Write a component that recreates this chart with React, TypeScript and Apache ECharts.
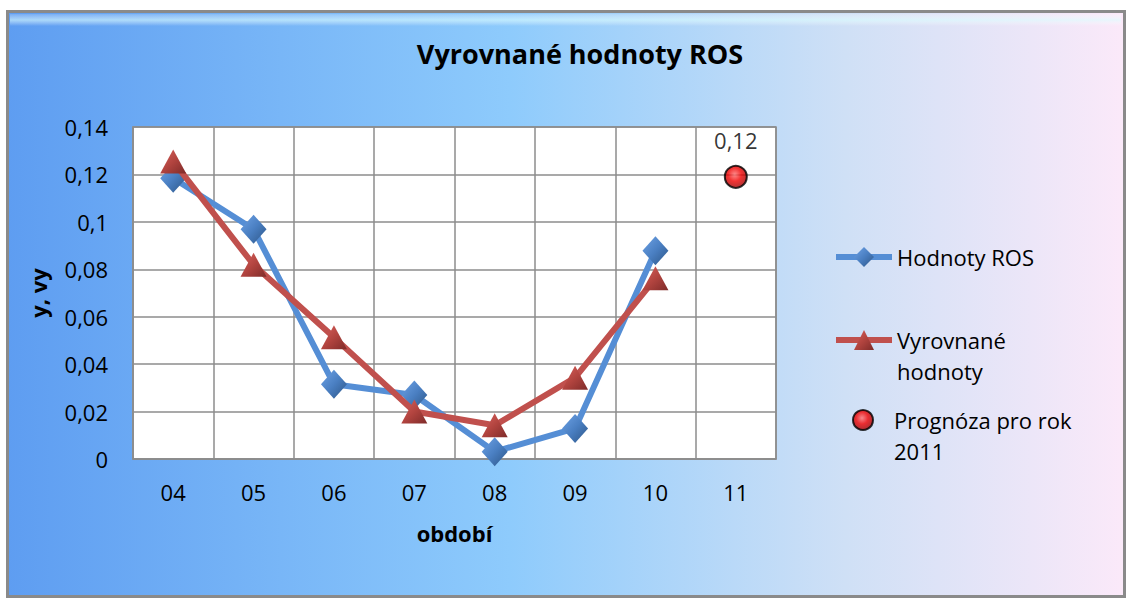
import React, { useEffect, useRef } from "react";
import * as echarts from "echarts";

const categories = ["04", "05", "06", "07", "08", "09", "10", "11"];
const rosValues = [0.1184, 0.0969, 0.0315, 0.027, 0.0031, 0.0129, 0.0878, null];
const smoothedValues = [0.1255, 0.0819, 0.0513, 0.02, 0.0142, 0.0343, 0.0762, null];
const forecastValues = [null, null, null, null, null, null, null, 0.119];
const seriesNames = ["Hodnoty ROS", "Vyrovnané hodnoty", "Prognóza pro rok 2011"];

const FONT = "Open Sans";
const fmtTick = (v: number) => String(+Number(v).toFixed(3)).replace(".", ",");
const fmtLabel = (v: number) => Number(v).toFixed(2).replace(".", ",");

export default function App() {
  const ref = useRef<HTMLDivElement>(null);
  useEffect(() => {
    if (!ref.current) return;
    const chart = echarts.init(ref.current, null, { renderer: "svg" });
    const blue = "#558ed5";
    const red = "#c0504d";
    const diamondFill = new echarts.graphic.LinearGradient(0, 0, 1, 1, [
      { offset: 0, color: "#6fa3e6" },
      { offset: 0.5, color: "#4a7fc2" },
      { offset: 1, color: "#2c5586" },
    ]);
    const triFill = new echarts.graphic.LinearGradient(0, 0, 1, 1, [
      { offset: 0, color: "#d8625e" },
      { offset: 0.5, color: "#b2443f" },
      { offset: 1, color: "#7e2b29" },
    ]);
    const ballFill = new echarts.graphic.RadialGradient(0.45, 0.4, 0.6, [
      { offset: 0, color: "#ff7070" },
      { offset: 0.5, color: "#f00000" },
      { offset: 1, color: "#a00000" },
    ]);
    const legendText: any = {
      fontFamily: FONT,
      fontSize: 22,
      color: "#000",
      lineHeight: 31,
      rich: {
        t: { fontFamily: FONT, fontSize: 22, color: "#000", lineHeight: 31, padding: [0, 0, 0, 16] },
      },
    };
    const legendFormat = [
      () => "Hodnoty ROS",
      () => "\nVyrovnané\nhodnoty",
      () => "{t|}\n{t|Prognóza pro rok}\n{t|2011}",
    ];
    const option: any = {
      animation: false,
      graphic: [
        {
          type: "rect",
          z: -10,
          silent: true,
          shape: { x: 7.5, y: 11.5, width: 1117, height: 585 },
          style: {
            fill: new echarts.graphic.LinearGradient(0, 0, 1, 0, [
              { offset: 0, color: "#5e9df1" },
              { offset: 0.45, color: "#8ecbfc" },
              { offset: 0.75, color: "#cfe0f6" },
              { offset: 1, color: "#fbe9f9" },
            ]),
            stroke: "#8a8a8a",
            lineWidth: 3,
          },
        },
        {
          type: "rect",
          z: -9,
          silent: true,
          shape: { x: 10, y: 14, width: 1111, height: 12 },
          style: {
            fill: new echarts.graphic.LinearGradient(0, 0, 0, 1, [
              { offset: 0, color: "rgba(255,255,255,0.15)" },
              { offset: 0.5, color: "rgba(220,255,255,0.6)" },
              { offset: 1, color: "rgba(255,255,255,0)" },
            ]),
          },
        },
      ],
      title: {
        text: "Vyrovnané hodnoty ROS",
        left: 575,
        textAlign: "center",
        top: 35,
        textStyle: { fontFamily: FONT, fontSize: 27, fontWeight: "bold", color: "#000" },
      },
      legend: [0, 1, 2].map((i) => ({
        data: [seriesNames[i]],
        left: i === 2 ? 852 : 833,
        top: [241.5, 293.5, 373.5][i],
        padding: 0,
        itemWidth: i === 2 ? 20 : 56,
        itemHeight: i === 2 ? 20 : 25,
        selectedMode: false,
        formatter: legendFormat[i],
        lineStyle: { width: 6 },
        textStyle: legendText,
      })),
      grid: {
        left: 133,
        right: 353,
        top: 127,
        bottom: 142,
        show: true,
        backgroundColor: "#ffffff",
        borderColor: "#8c8c8c",
        borderWidth: 1.5,
      },
      xAxis: {
        type: "category",
        data: categories,
        boundaryGap: true,
        name: "období",
        nameLocation: "middle",
        nameGap: 63,
        nameTextStyle: { fontFamily: FONT, fontSize: 22, fontWeight: "bold", color: "#000" },
        axisLine: { show: true, lineStyle: { color: "#8c8c8c", width: 1.5 } },
        axisTick: { show: false },
        axisLabel: { fontFamily: FONT, fontSize: 22, color: "#000", margin: 22, interval: 0 },
        splitLine: { show: true, interval: 0, lineStyle: { color: "#8c8c8c", width: 1.5 } },
      },
      yAxis: {
        type: "value",
        min: 0,
        max: 0.14,
        interval: 0.02,
        name: "y, vy",
        nameLocation: "middle",
        nameGap: 84,
        nameTextStyle: { fontFamily: FONT, fontSize: 22, fontWeight: "bold", color: "#000" },
        axisLine: { show: true, lineStyle: { color: "#8c8c8c", width: 1.5 } },
        axisTick: { show: false },
        axisLabel: { fontFamily: FONT, fontSize: 22, color: "#000", margin: 25, formatter: fmtTick },
        splitLine: { show: true, lineStyle: { color: "#8c8c8c", width: 1.5 } },
      },
      series: [
        {
          name: seriesNames[0],
          type: "line",
          data: rosValues,
          symbol: "diamond",
          symbolSize: [26, 29],
          lineStyle: { color: blue, width: 6 },
          itemStyle: { color: diamondFill, borderWidth: 0 },
          z: 2,
        },
        {
          name: seriesNames[1],
          type: "line",
          data: smoothedValues,
          symbol: "triangle",
          symbolSize: [26, 24],
          lineStyle: { color: red, width: 6 },
          itemStyle: { color: triFill, borderWidth: 0 },
          z: 3,
        },
        {
          name: seriesNames[2],
          type: "scatter",
          data: forecastValues,
          symbol: "circle",
          symbolSize: 22,
          itemStyle: { color: ballFill, borderColor: "#000", borderWidth: 2 },
          label: {
            show: true,
            position: "top",
            distance: 14,
            formatter: (p: any) => fmtLabel(p.value),
            fontFamily: FONT,
            fontSize: 22,
            color: "#000",
          },
          z: 4,
        },
      ],
    };
    chart.setOption(option);
    return () => chart.dispose();
  }, []);
  return (
    <div
      ref={ref}
      style={{ position: "fixed", left: 0, top: 0, width: 1129, height: 601, background: "#fff" }}
    />
  );
}
